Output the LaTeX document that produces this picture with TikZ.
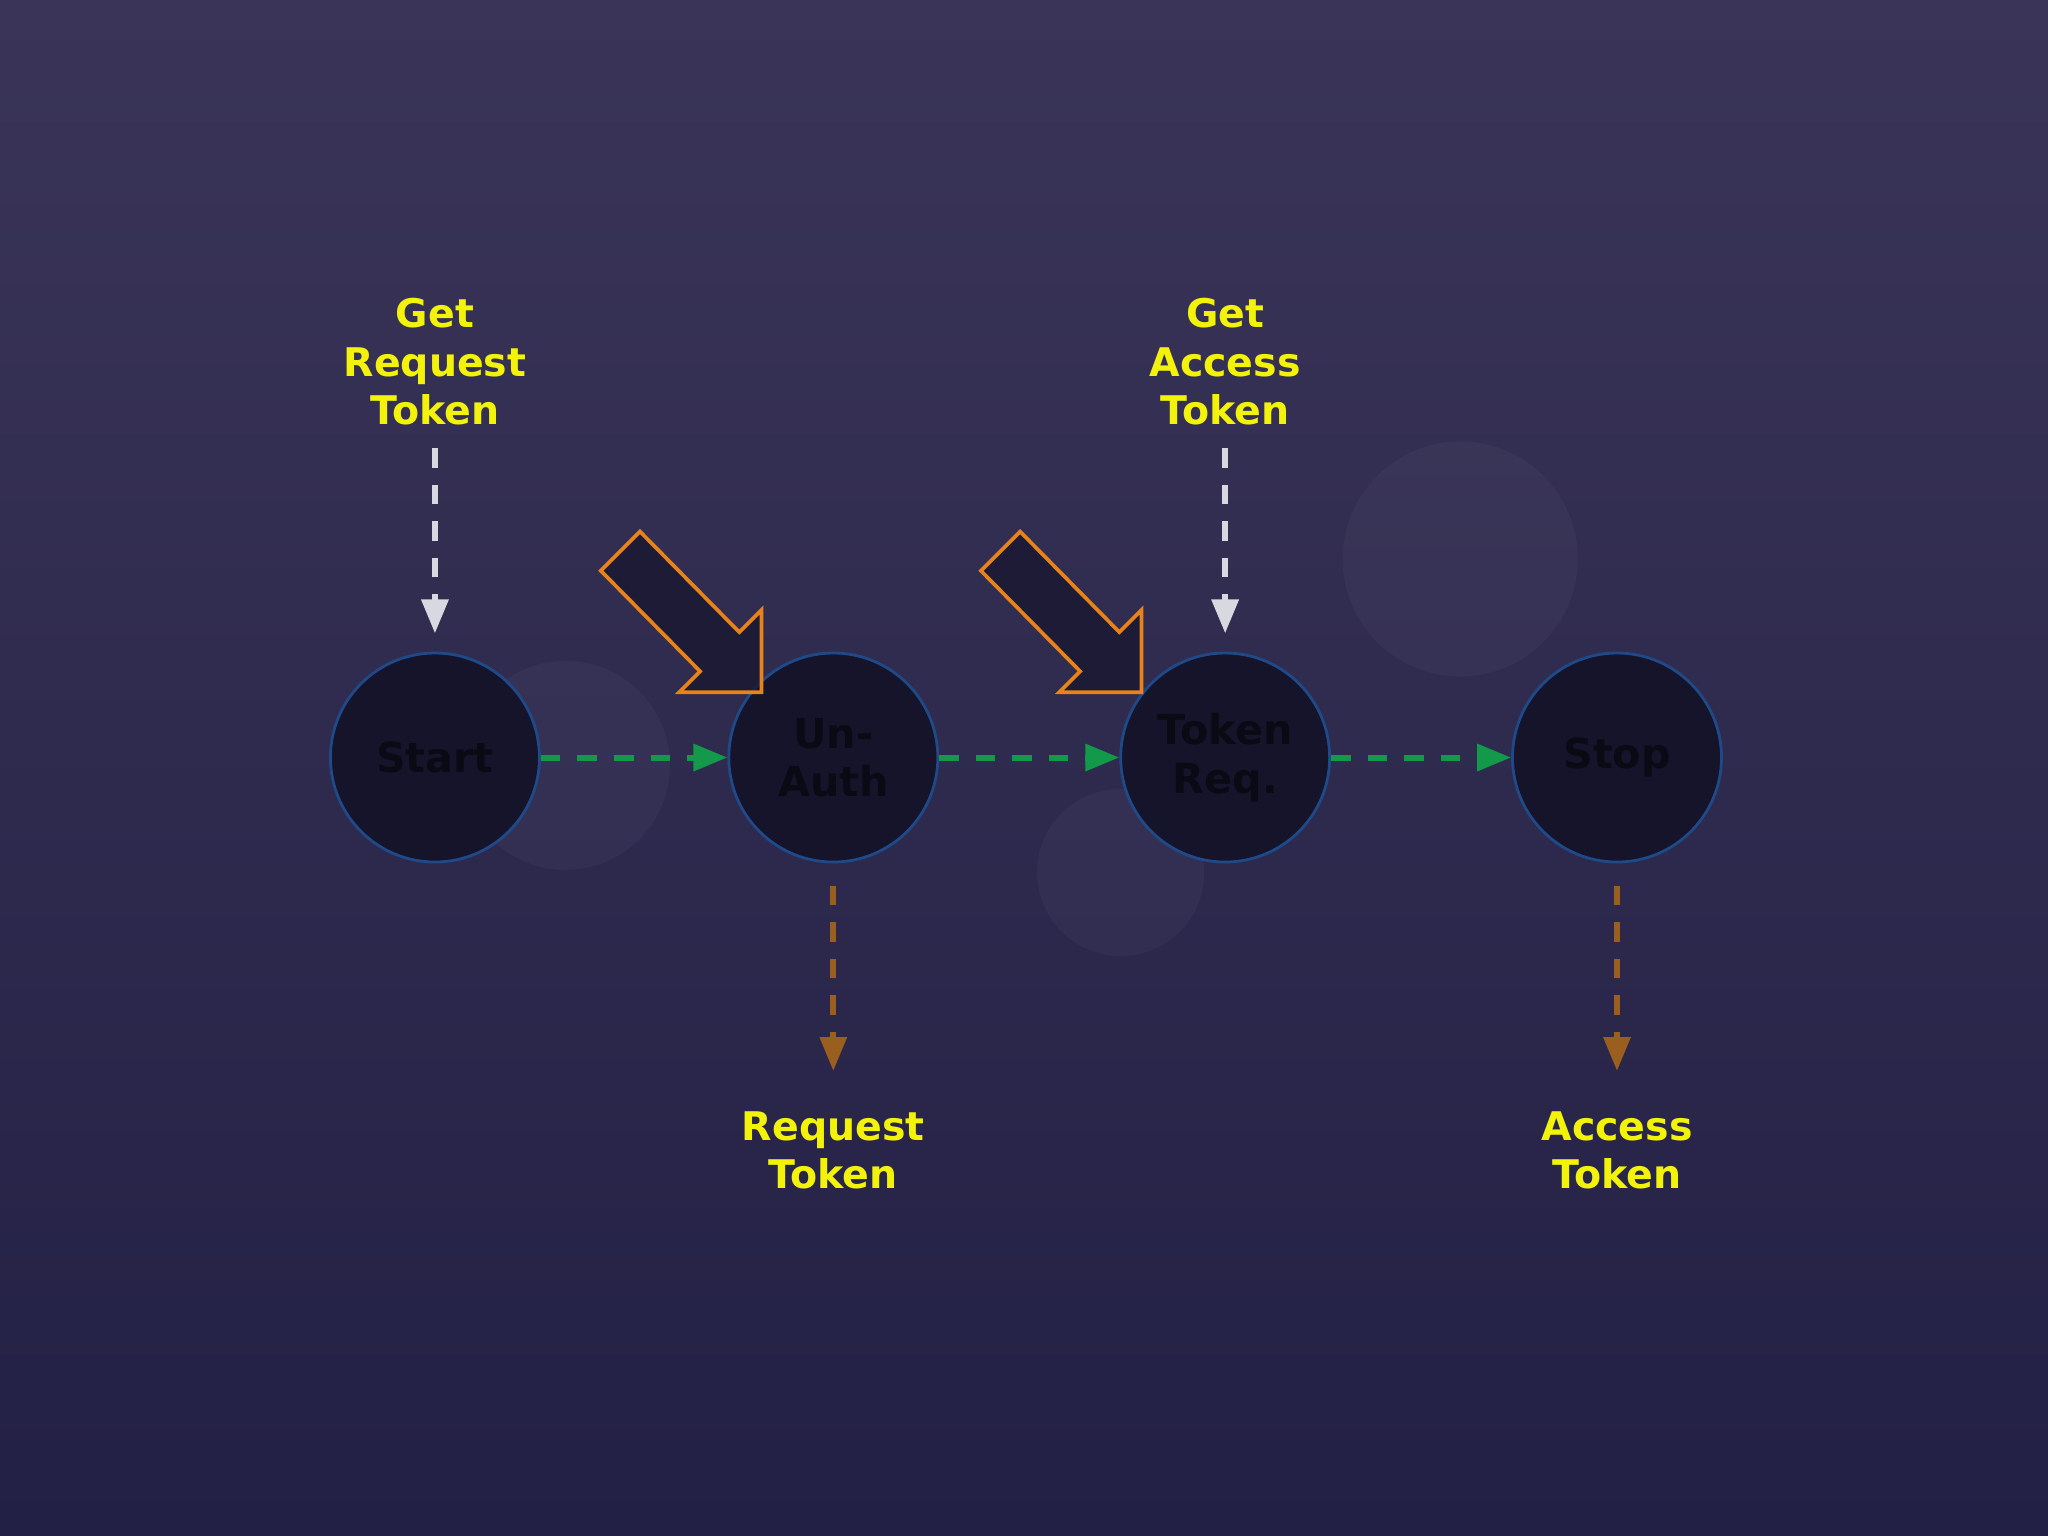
\documentclass[tikz,border=0pt]{standalone}
\usepackage{fontspec}
\setsansfont{DejaVu Sans}
\usetikzlibrary{arrows.meta}
\definecolor{bgtop}{HTML}{3A3558}
\definecolor{bgbot}{HTML}{232045}
\definecolor{lab}{HTML}{F2F20A}
\definecolor{gr}{HTML}{129A4A}
\definecolor{br}{HTML}{9A5E1E}
\definecolor{lg}{HTML}{D8D8E0}
\definecolor{orng}{HTML}{E8831A}
\definecolor{cfill}{HTML}{15142A}
\definecolor{ctext}{HTML}{0A0A14}
\definecolor{cedge}{HTML}{1E4A8A}
\begin{document}
\begin{tikzpicture}[x=1cm,y=1cm,
  state/.style={circle,minimum size=1.6cm,fill=cfill,draw=cedge,line width=0.6pt,font=\sffamily\bfseries\fontsize{9}{10.5}\selectfont,text=ctext,align=center,inner sep=0pt},
  lbl/.style={font=\sffamily\bfseries\fontsize{8.6}{10.5}\selectfont,text=lab,align=center},
  dsh/.style={dash pattern=on 0.15cm off 0.13cm,line width=1.3pt},
  tip/.style={-{Triangle[length=0.26cm,width=0.2cm]}},
  blk/.style={draw=orng,fill=cfill,fill opacity=0.7,draw opacity=1,line width=0.8pt}]
\useasboundingbox (0,0) rectangle (15.68,11.76);
\shade[top color=bgtop,bottom color=bgbot] (0,0) rectangle (15.68,11.76);
\fill[white,opacity=0.03] (11.18,7.48) circle (0.9);
\fill[white,opacity=0.03] (4.33,5.9) circle (0.8);
\fill[white,opacity=0.03] (8.58,5.08) circle (0.64);
\node[state] (s) at (3.33,5.96) {Start};
\node[state] (u) at (6.38,5.96) {Un-\\Auth};
\node[state] (t) at (9.38,5.96) {Token\\Req.};
\node[state] (p) at (12.38,5.96) {Stop};
\node[lbl] (g1) at (3.33,8.99) {Get\\Request\\Token};
\node[lbl] (g2) at (9.38,8.99) {Get\\Access\\Token};
\node[lbl] (r1) at (6.38,2.95) {Request\\Token};
\node[lbl] (r2) at (12.38,2.95) {Access\\Token};
\coordinate (g1e) at (3.33,6.91);
\coordinate (g2e) at (9.38,6.91);
\coordinate (u0) at (6.38,4.98);
\coordinate (p0) at (12.38,4.98);
\coordinate (r1e) at (6.38,3.56);
\coordinate (r2e) at (12.38,3.56);
\draw[dsh,lg,tip] (3.33,8.33) -- (g1e);
\draw[dsh,lg,tip] (9.38,8.33) -- (g2e);
\draw[dsh,br,tip] (u0) -- (r1e);
\draw[dsh,br,tip] (p0) -- (r2e);
\draw[dsh,gr,tip] (s.east) -- (u.west);
\draw[dsh,gr,tip] (u.east) -- (t.west);
\draw[dsh,gr,tip] (t.east) -- (p.west);
\foreach \dx in {0,2.91}{
\draw[blk,shift={(\dx,0)}] (4.60,7.39) -- (4.90,7.69) -- (5.66,6.92) -- (5.83,7.09) -- (5.83,6.46) -- (5.20,6.46) -- (5.36,6.62) -- cycle;}
\end{tikzpicture}
\end{document}
